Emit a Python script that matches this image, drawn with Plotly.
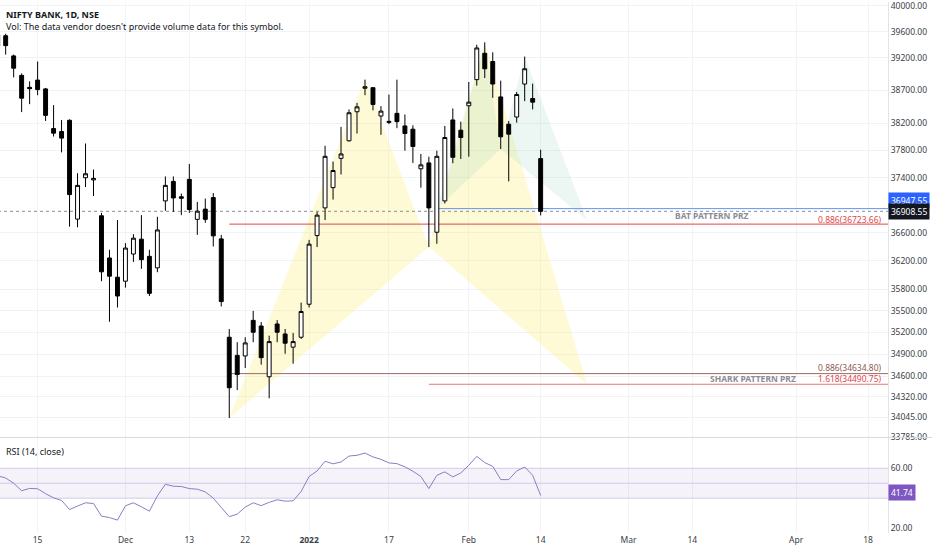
import numpy as np
import plotly.graph_objects as go
from plotly.subplots import make_subplots

# NIFTY BANK daily candles, 8 Nov 2021 - 14 Feb 2022
dates = [
    '2021-11-08', '2021-11-09', '2021-11-10', '2021-11-11', '2021-11-12', '2021-11-15',
    '2021-11-16', '2021-11-17', '2021-11-18', '2021-11-22', '2021-11-23', '2021-11-24',
    '2021-11-25', '2021-11-26', '2021-11-29', '2021-11-30', '2021-12-01', '2021-12-02',
    '2021-12-03', '2021-12-06', '2021-12-07', '2021-12-08', '2021-12-09', '2021-12-10',
    '2021-12-13', '2021-12-14', '2021-12-15', '2021-12-16', '2021-12-17', '2021-12-20',
    '2021-12-21', '2021-12-22', '2021-12-23', '2021-12-24', '2021-12-27', '2021-12-28',
    '2021-12-29', '2021-12-30', '2021-12-31', '2022-01-03', '2022-01-04', '2022-01-05',
    '2022-01-06', '2022-01-07', '2022-01-10', '2022-01-11', '2022-01-12', '2022-01-13',
    '2022-01-14', '2022-01-17', '2022-01-18', '2022-01-19', '2022-01-20', '2022-01-21',
    '2022-01-24', '2022-01-25', '2022-01-27', '2022-01-28', '2022-01-31', '2022-02-01',
    '2022-02-02', '2022-02-03', '2022-02-04', '2022-02-07', '2022-02-08', '2022-02-09',
    '2022-02-10', '2022-02-11', '2022-02-14',
]
opens = [
    39550, 39536, 39225, 38927, 38745, 38855, 38721, 38124, 38080, 38248, 36796, 37397,
    37365, 36844, 36240, 35968, 35912, 36296, 36508, 36263, 36100, 37059, 37343, 37119,
    37373, 36792, 36940, 37108, 36512, 35132, 34883, 34875, 35365, 35287, 34592, 35315,
    35177, 34996, 35132, 35589, 36559, 36958, 37252, 37682, 37942, 38376, 38731, 38740,
    38312, 38216, 38352, 38164, 38115, 37528, 37615, 36607, 37059, 38253, 38100, 38466,
    38862, 39265, 39139, 38600, 38189, 38297, 38795, 38576, 37678,
]
highs = [
    39600, 39567, 39245, 38957, 38836, 39139, 38736, 38476, 38253, 38262, 37464, 37902,
    37518, 36886, 36357, 36782, 36451, 36579, 36853, 36357, 36829, 37416, 37416, 37166,
    37600, 37044, 37093, 37174, 36569, 35246, 35064, 35132, 35497, 35342, 35154, 35369,
    35246, 35191, 35612, 36498, 36901, 37868, 37634, 38149, 38411, 38510, 38862, 38745,
    38461, 38636, 38862, 38336, 38174, 37747, 37707, 37795, 38164, 38426, 38228, 38826,
    39398, 39434, 39280, 38847, 38238, 38675, 39215, 38802, 37810,
]
lows = [
    39340, 39245, 38896, 38371, 38491, 38626, 38238, 38006, 37770, 36687, 36678, 37261,
    37130, 35912, 35346, 35543, 35821, 36184, 36086, 35704, 36038, 36915, 36901, 36853,
    36886, 36569, 36743, 36404, 35558, 34037, 34412, 34712, 35064, 34757, 34302, 35064,
    34905, 34770, 35109, 35543, 36395, 36782, 37079, 37445, 37932, 38050, 38626, 38397,
    38031, 38189, 38130, 37795, 37615, 37252, 36395, 36442, 37021, 37610, 37673, 37707,
    38771, 38886, 38586, 37820, 37344, 38213, 38536, 38411, 36849,
]
closes = [
    39370, 39383, 39037, 38581, 38725, 38711, 38322, 38056, 37982, 37151, 37285, 37455,
    37387, 36044, 35982, 35704, 36381, 36522, 36216, 35741, 36640, 37285, 37102, 37098,
    36935, 36911, 36792, 36555, 35626, 34444, 34623, 35054, 35201, 34852, 35072, 35201,
    35050, 35072, 35488, 36437, 36853, 37712, 37503, 37747, 38361, 38450, 38754, 38486,
    38386, 38231, 38228, 38050, 37858, 37586, 36958, 37712, 37991, 37697, 37991, 38521,
    39347, 39028, 38795, 38001, 38041, 38636, 39028, 38521, 36908.55,
]
rsi = [
    55, 53.5, 50, 45, 46.5, 46.3, 43, 40.2, 38.5, 32.4, 34.7, 36.9,
    36.4, 28, 27, 25.3, 34.9, 36.9, 34.2, 31.3, 41.5, 49.3, 48, 47.8,
    46.4, 46, 44.2, 40, 33.8, 27.6, 29.3, 34, 36.9, 35, 37.2, 38.9,
    38, 38.2, 44.5, 54.5, 58.2, 64.7, 63, 64.2, 68.2, 68.7, 70.2, 67.6,
    66, 63.6, 63.1, 61, 58, 54.5, 46.4, 55.3, 57.6, 54.2, 56.9, 62,
    68, 63.8, 61.3, 52.4, 52.4, 58.2, 60.9, 55.3, 41.74,
]

# axis labels
price_ticks = [40000, 39600, 39200, 38700, 38200, 37800, 37400, 36600, 36200,
               35800, 35500, 35200, 34900, 34600, 34320, 34045, 33785]
date_tick_idx = [5, 16, 24, 31, 39, 49, 59, 68, 79, 87, 100, 109]
date_tick_text = ['15', 'Dec', '13', '22', '<b>2022</b>', '17', 'Feb', '14',
                  'Mar', '14', 'Apr', '18']

# harmonic patterns (X, A, B, C, D) as bar index / price
shark_idx = [29, 46, 54, 61, 73.8]
shark_px = [34037, 38870, 36397, 39420, 34490.75]
bat_idx = [55, 61, 63, 66, 73.8]
bat_px = [36947.55, 39420, 37820, 39215, 36780]

last_close = 36908.55
bat_ray = 36947.55
bat_prz = 36723.66
shark_prz_1 = 34634.80
shark_prz_2 = 34490.75
rsi_last = 41.74

idx = list(range(len(dates)))
x_lo, x_hi = 0.29, 111.5
price_range = [np.log10(33780), np.log10(40062)]

fig = make_subplots(rows=2, cols=1, shared_xaxes=True, vertical_spacing=0,
                    row_heights=[0.82, 0.18])

# pattern triangles
def add_pattern(xs, ys, color):
    for a, b, c in [(0, 1, 2), (2, 3, 4)]:
        fig.add_trace(go.Scatter(
            x=[xs[a], xs[b], xs[c], xs[a]], y=[ys[a], ys[b], ys[c], ys[a]],
            mode='lines', fill='toself', fillcolor=color, line=dict(width=0),
            hoverinfo='skip', showlegend=False), row=1, col=1)

add_pattern(shark_idx, shark_px, 'rgba(251, 238, 120, 0.3)')
add_pattern(bat_idx, bat_px, 'rgba(110, 196, 160, 0.13)')

# horizontal levels
def hline(x0, y, color, dash='solid'):
    fig.add_trace(go.Scatter(x=[x0, x_hi + 1], y=[y, y], mode='lines',
                             line=dict(color=color, width=1, dash=dash),
                             hoverinfo='skip', showlegend=False), row=1, col=1)

hline(29, bat_prz, '#e0464a')
hline(29, shark_prz_1, '#9a6a66')
hline(54, shark_prz_2, '#e8787a')
hline(55, bat_ray, '#6a94ee')
hline(x_lo - 1, last_close, '#8a8d96', dash='dot')

# candles sit on an overlaid price axis so the drawings stay underneath
fig.add_trace(go.Candlestick(
    x=idx, open=opens, high=highs, low=lows, close=closes,
    increasing=dict(line=dict(color='#000000', width=1), fillcolor='#ffffff'),
    decreasing=dict(line=dict(color='#000000', width=1), fillcolor='#000000'),
    whiskerwidth=0, text=dates, showlegend=False, xaxis='x', yaxis='y3'))

# RSI pane
fig.add_trace(go.Scatter(x=[x_lo - 1, x_hi + 1, x_hi + 1, x_lo - 1], y=[40, 40, 60, 60],
                         mode='lines', fill='toself', fillcolor='rgba(126, 87, 194, 0.08)',
                         line=dict(width=0), hoverinfo='skip', showlegend=False),
              row=2, col=1)
for lvl in [60, 50, 40]:
    fig.add_trace(go.Scatter(x=[x_lo - 1, x_hi + 1], y=[lvl, lvl], mode='lines',
                             line=dict(color='#d3cbe8', width=1),
                             hoverinfo='skip', showlegend=False), row=2, col=1)
fig.add_trace(go.Scatter(x=idx, y=rsi, mode='lines', line=dict(color='#8e7cc3', width=1),
                         showlegend=False), row=2, col=1)

font = 'Noto Sans'
tick_font = dict(family=font, size=8.5, color='#3b3e47')

fig.update_layout(
    width=932, height=550, margin=dict(l=0, r=44, t=0, b=17),
    plot_bgcolor='#ffffff', paper_bgcolor='#ffffff',
    font=dict(family=font, size=9, color='#131722'),
    hovermode=False,
    yaxis3=dict(overlaying='y', anchor='x', type='log', range=price_range, side='right',
                showticklabels=False, showgrid=False, zeroline=False, showline=False),
)
fig.update_xaxes(range=[x_lo, x_hi], tickvals=date_tick_idx, ticktext=date_tick_text,
                 showgrid=True, gridcolor='#f3f4f7', zeroline=False, ticks='',
                 rangeslider_visible=False, tickfont=tick_font)
fig.update_xaxes(showticklabels=False, row=1, col=1)
fig.update_yaxes(type='log', range=price_range, side='right',
                 tickvals=price_ticks, ticktext=[f'{v:.2f}' for v in price_ticks],
                 ticklabeloverflow='allow',
                 showgrid=True, gridcolor='#f0f2f6', zeroline=False, ticks='',
                 showline=True, linecolor='#e0e3eb', tickfont=tick_font, row=1, col=1)
fig.update_yaxes(range=[16.67, 80.67], side='right', tickvals=[60, 20],
                 ticktext=['60.00', '20.00'], showgrid=False, zeroline=False, ticks='',
                 showline=True, linecolor='#e0e3eb', tickfont=tick_font, row=2, col=1)

# pane separator
fig.add_shape(type='line', xref='paper', yref='paper', x0=0, x1=1.05, y0=0.18, y1=0.18,
              line=dict(color='#d6d9e0', width=1))

ann = []
ann.append(dict(text='<b>NIFTY BANK, 1D, NSE</b>', x=0.004, y=1 - 4 / 533))
ann.append(dict(text="Vol: The data vendor doesn't provide volume data for this symbol.",
                x=0.004, y=1 - 16 / 533))
for a in ann:
    fig.add_annotation(xref='paper', yref='paper', xanchor='left', yanchor='top',
                       showarrow=False, font=dict(family=font, size=9, color='#131722'), **a)
fig.add_annotation(text='RSI (14, close)', xref='paper', yref='paper', x=0.004,
                   y=0.18 - 6 / 533, xanchor='left', yanchor='top', showarrow=False,
                   font=dict(family=font, size=9, color='#131722'))

# level labels
def level_text(text, xpos, price, color, anchor, bold=False, shift=5):
    fig.add_annotation(text=f'<b>{text}</b>' if bold else text, xref='x', yref='y',
                       x=xpos, y=np.log10(price), xanchor=anchor, yanchor='middle',
                       yshift=shift, showarrow=False,
                       font=dict(family=font, size=8.5, color=color))

level_text('BAT PATTERN PRZ', 89.4, bat_prz, '#8a8d96', 'center', bold=True, shift=9)
level_text('0.886(36723.66)', 111.0, bat_prz, '#e0464a', 'right')
level_text('0.886(34634.80)', 111.0, shark_prz_1, '#8d5a55', 'right', shift=6)
level_text('SHARK PATTERN PRZ', 94.6, shark_prz_2, '#8a8d96', 'center', bold=True, shift=6)
level_text('1.618(34490.75)', 111.0, shark_prz_2, '#e0464a', 'right', shift=6)

# price-scale labels
def scale_label(text, y, yref, bg, shift=0):
    fig.add_annotation(text=text, xref='paper', yref=yref, x=1.0, y=y, xanchor='left',
                       yanchor='middle', yshift=shift, showarrow=False, bgcolor=bg,
                       borderpad=2, font=dict(family=font, size=8.5, color='#ffffff'))

scale_label(f'{bat_ray:.2f}', np.log10(bat_ray), 'y', '#2962ff', shift=8)
scale_label(f'{last_close:.2f}', np.log10(last_close), 'y', '#131722')
scale_label(f'{rsi_last:.2f}', rsi_last, 'y2', '#7e57c2', shift=3)

fig.write_html('out.html', config={'displayModeBar': False},
               post_script="document.body.style.margin = '0';")
